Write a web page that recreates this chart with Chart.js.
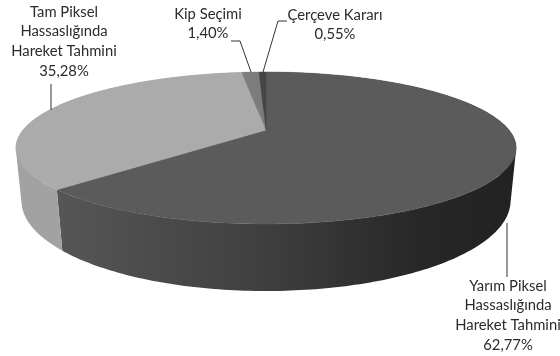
<!DOCTYPE html>
<html><head><meta charset="utf-8">
<style>html,body{margin:0;padding:0;background:#fff}canvas{display:block}</style>
<script src="https://cdn.jsdelivr.net/npm/chart.js@4"></script>
</head><body><canvas id="c" width="560" height="356"></canvas>
<script>
const categories = ["Yarım Piksel|Hassaslığında|Hareket Tahmini", "Tam Piksel|Hassaslığında|Hareket Tahmini", "Kip Seçimi", "Çerçeve Kararı"];
const shares = [62.77, 35.28, 1.40, 0.55];
const topColors = ["#5b5b5b", "#ababab", "#7c7c7c", "#454545"];
const wallStops = [
  [[0, "#565656"], [0.45, "#3f3f3f"], [0.8, "#272727"], [1, "#222222"]],
  [[0, "#a2a2a2"], [1, "#a2a2a2"]],
  [[0, "#6c6c6c"], [1, "#6c6c6c"]],
  [[0, "#3c3c3c"], [1, "#3c3c3c"]]
];
const labelCenters = [[508, 286], [64, 12], [208, 14], [335, 15]];
const leaders = [
  [[507, 223], [507, 277]],
  [[51, 84], [51, 110]],
  [[231, 41], [240, 41], [251, 72]],
  [[287, 21], [278, 21], [263, 72]]
];
const upperDisc = {dy: -18, A: 243, B: 71.7, k: -0.237};
const lowerDisc = {dy: 32, A: 238, B: 85.5, k: -0.23};
const lineStep = 19.6;

function project(arc, d, a) {
  const u = Math.cos(a), v = Math.sin(a), w = 1 + d.k * v;
  return [arc.x + d.A * u / w, arc.y + d.dy + d.B * v / w];
}
function trace(ctx, arc, d, from, to, first) {
  const n = Math.max(2, Math.ceil(Math.abs(to - from) * 40));
  for (let i = 0; i <= n; i++) {
    const p = project(arc, d, from + (to - from) * i / n);
    if (i === 0 && first) ctx.moveTo(p[0], p[1]); else ctx.lineTo(p[0], p[1]);
  }
}
function signedArea(p) {
  let s = 0;
  p.forEach((q, j) => { const r = p[(j + 1) % p.length]; s += q[0] * r[1] - r[0] * q[1]; });
  return s;
}
const pie3d = {
  id: "pie3d",
  beforeDatasetDraw(chart, args) {
    const ctx = chart.ctx, arcs = args.meta.data;
    ctx.save();
    arcs.forEach((arc, i) => {
      const g = ctx.createLinearGradient(60, 0, 512, 0);
      wallStops[i].forEach(s => g.addColorStop(s[0], s[1]));
      ctx.fillStyle = g;
      const n = Math.max(2, Math.ceil((arc.endAngle - arc.startAngle) * 60));
      ctx.beginPath();
      for (let s = 0; s < n; s++) {
        const a0 = arc.startAngle + (arc.endAngle - arc.startAngle) * s / n;
        const a1 = arc.startAngle + (arc.endAngle - arc.startAngle) * (s + 1) / n;
        let p = [project(arc, upperDisc, a0), project(arc, upperDisc, a1), project(arc, lowerDisc, a1), project(arc, lowerDisc, a0)];
        if (signedArea(p) < 0) p = p.reverse();
        p.forEach((q, j) => j ? ctx.lineTo(q[0], q[1]) : ctx.moveTo(q[0], q[1]));
        ctx.closePath();
      }
      ctx.fill();
    });
    arcs.forEach((arc, i) => {
      ctx.fillStyle = topColors[i];
      ctx.strokeStyle = topColors[i];
      ctx.lineWidth = 0.5;
      ctx.beginPath();
      ctx.moveTo(arc.x, arc.y + upperDisc.dy);
      trace(ctx, arc, upperDisc, arc.startAngle, arc.endAngle, false);
      ctx.closePath();
      ctx.fill();
      ctx.stroke();
    });
    ctx.restore();
    return false;
  },
  afterDraw(chart) {
    const ctx = chart.ctx;
    ctx.save();
    ctx.strokeStyle = "#333";
    ctx.lineWidth = 1;
    leaders.forEach(l => {
      ctx.beginPath();
      l.forEach((p, i) => i ? ctx.lineTo(p[0], p[1]) : ctx.moveTo(p[0], p[1]));
      ctx.stroke();
    });
    ctx.fillStyle = "#2b2b2b";
    ctx.font = "14.8px Lato";
    ctx.textAlign = "center";
    ctx.textBaseline = "middle";
    categories.forEach((c, i) => {
      const lines = c.split("|").concat(shares[i].toFixed(2).replace(".", ",") + "%");
      lines.forEach((t, j) => ctx.fillText(t, labelCenters[i][0], labelCenters[i][1] + j * lineStep));
    });
    ctx.restore();
  }
};
new Chart(document.getElementById("c"), {
  type: "pie",
  data: {labels: categories.map(c => c.replace(/\|/g, " ")), datasets: [{data: shares, backgroundColor: topColors, borderWidth: 0}]},
  options: {
    responsive: false, animation: false,
    layout: {padding: {right: 28, bottom: 60}},
    plugins: {legend: {display: false}, tooltip: {enabled: false}}
  },
  plugins: [pie3d]
});
</script></body></html>
